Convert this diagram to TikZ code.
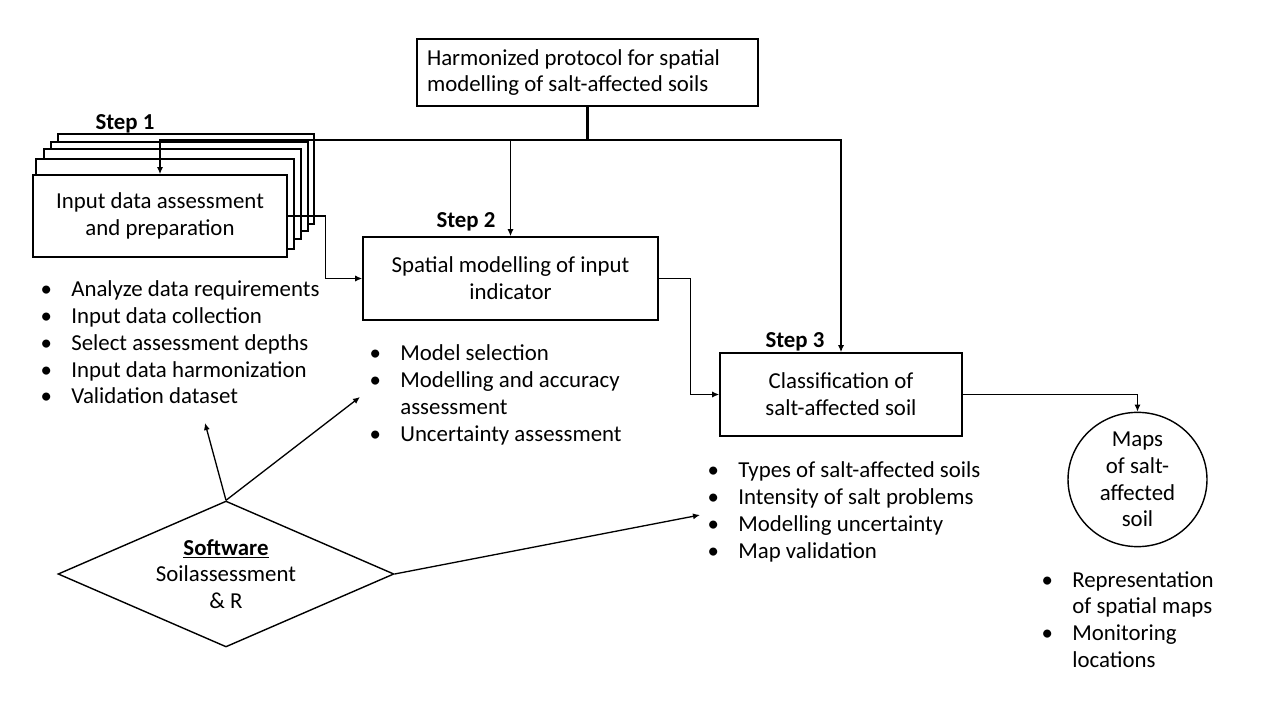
\documentclass[tikz,border=0pt]{standalone}
\usepackage{fontspec}
\setmainfont{Carlito}
\usepackage{tikz}
\usetikzlibrary{arrows.meta, shapes.geometric, positioning}
\newcommand{\diag}{\fontsize{13}{15.2}\selectfont}
\newcommand{\bitem}{\makebox[0pt]{\textbullet}\hspace{0.5cm}}
\newcommand{\bcont}{\hspace{0.5cm}}
\tikzset{
    stepbox/.style={rectangle, draw=black, line width=0.9pt, fill=white, align=center, inner sep=0pt, font=\diag},
    stackbox/.style={draw=black, line width=0.9pt, fill=white},
    protobox/.style={rectangle, draw=black, line width=0.9pt, fill=white, align=flush left, text width=6.42cm, inner xsep=0.2cm, inner ysep=0pt, minimum height=1.34cm, font=\diag},
    steplabel/.style={font=\diag\bfseries, inner sep=0pt},
    itemlist/.style={anchor=base west, inner sep=0pt, font=\diag},
    mapnode/.style={ellipse, draw=black, line width=0.8pt, align=center, inner sep=0pt, minimum width=2.78cm, minimum height=2.42cm, font=\diag},
    softnode/.style={diamond, draw=black, line width=0.8pt, align=center, inner sep=0pt, aspect=2.3, minimum width=6.72cm, minimum height=2.92cm, font=\diag},
    link/.style={line width=1.2pt},
    arrow/.style={-{Latex[length=4pt, width=3.5pt]}, line width=0.75pt}
}

\begin{document}
\begin{tikzpicture}[x=0.02cm, y=-0.02cm]
    \useasboundingbox (0,0) rectangle (1268,709);

    % Protocol box
    \node[protobox] (proto) at (587.5,72.5) {Harmonized protocol for spatial\\modelling of salt-affected soils};

    % Step 1 (stacked boxes)
    \foreach \xa/\ya/\xb/\yb in {58/134/314/224, 51/142/308/231, 44/149/301/239, 36/159/294/249}
        \draw[stackbox] (\xa,\ya) rectangle (\xb,\yb);
    \node[stepbox, minimum width=5.08cm, minimum height=1.64cm] (s1) at (160,216) {Input data assessment\\and preparation};
    \node[steplabel] (lab1) at (125,124) {Step 1};

    % Step 2
    \node[stepbox, minimum width=5.9cm, minimum height=1.66cm] (s2) at (510.5,278.5) {Spatial modelling of input\\indicator};
    \node[steplabel] (lab2) at (466,222) {Step 2};

    % Step 3
    \node[stepbox, minimum width=4.84cm, minimum height=1.66cm] (s3) at (841,394.5) {Classification of\\salt-affected soil};
    \node[steplabel] (lab3) at (795,342) {Step 3};

    % Output and software
    \node[mapnode] (maps) at (1137.5,479.5) {Maps\\of salt-\\affected\\soil};
    \node[softnode] (sw) at (226,574) {\underline{\textbf{Software}}\\Soilassessment\\\& R};

    % Lists
    \node[itemlist] (list1) at (46,297) {\begin{tabular}[t]{@{}l@{}}
        \bitem Analyze data requirements\\
        \bitem Input data collection\\
        \bitem Select assessment depths\\
        \bitem Input data harmonization\\
        \bitem Validation dataset
    \end{tabular}};
    \node[itemlist] (list2) at (375,361) {\begin{tabular}[t]{@{}l@{}}
        \bitem Model selection\\
        \bitem Modelling and accuracy\\
        \bcont assessment\\
        \bitem Uncertainty assessment
    \end{tabular}};
    \node[itemlist] (list3) at (713,478) {\begin{tabular}[t]{@{}l@{}}
        \bitem Types of salt-affected soils\\
        \bitem Intensity of salt problems\\
        \bitem Modelling uncertainty\\
        \bitem Map validation
    \end{tabular}};
    \node[itemlist] (list4) at (1047,587) {\begin{tabular}[t]{@{}l@{}}
        \bitem Representation\\
        \bcont of spatial maps\\
        \bitem Monitoring\\
        \bcont locations
    \end{tabular}};

    % Connectors
    \coordinate (hub) at (587.5,140);
    \draw[link] (proto.south) -- (hub);
    \draw[arrow] (hub) -| (s1.north);
    \draw[arrow] (hub) -| (s2.north);
    \draw[arrow] (hub) -| (s3.north);
    \draw[arrow] (s1.east) -- ++(38,0) |- (s2.west);
    \draw[arrow] (s2.east) -- ++(32,0) |- (s3.west);
    \draw[arrow] (s3.east) -| (maps.north);

    % Software arrows
    \coordinate (pt1) at (205,423);
    \coordinate (pt2) at (360,397);
    \coordinate (pt3) at (700,515);
    \draw[arrow] (sw.north) -- (pt1);
    \draw[arrow] (sw.north) -- (pt2);
    \draw[arrow] (sw.east) -- (pt3);
\end{tikzpicture}
\end{document}
